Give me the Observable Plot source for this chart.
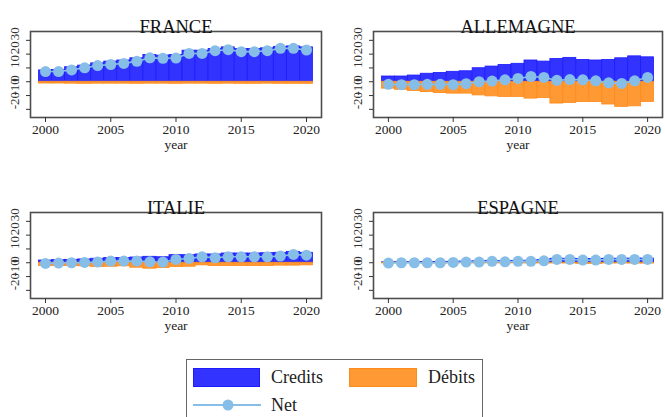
<!DOCTYPE html>
<html><head><meta charset="utf-8">
<script src="https://cdn.jsdelivr.net/npm/d3@7"></script>
<script src="https://cdn.jsdelivr.net/npm/@observablehq/plot@0.6"></script>
<style>
body{margin:0;background:#fff;}
#root{position:relative;width:665px;height:417px;overflow:hidden;font-family:"Liberation Serif",serif;background:#fff;}
.panel{position:absolute;}
.panel svg{max-width:none !important;}
#legend{position:absolute;left:186px;top:359px;width:297px;height:70px;border:1.5px solid #666;box-sizing:border-box;}
.sw{position:absolute;box-sizing:border-box;}
.lab{position:absolute;font-size:18px;color:#222;line-height:20px;}
</style></head><body><div id="root"></div>
<script>
const years = [2000,2001,2002,2003,2004,2005,2006,2007,2008,2009,2010,2011,2012,2013,2014,2015,2016,2017,2018,2019,2020];
const countries = ["FRANCE","ALLEMAGNE","ITALIE","ESPAGNE"];
const xTicks = [2000,2005,2010,2015,2020];
const yTicks = [-20,-10,0,10,20,30];
const seriesNames = ["Credits","Débits","Net"];

const franceCredits = [8.2,8.6,10.5,11.7,13.3,14.6,15.4,17.0,19.4,18.9,19.4,22.5,22.5,23.7,24.9,23.7,23.7,24.2,25.3,25.6,24.9];
const franceDebits  = [-1.3,-1.3,-1.4,-1.5,-1.4,-1.4,-1.4,-1.5,-1.4,-1.4,-1.5,-1.4,-1.4,-1.5,-1.4,-1.5,-1.5,-1.4,-1.5,-1.5,-1.5];
const franceNet     = [7.4,7.4,8.6,10.1,11.7,12.5,13.3,14.8,17.3,17.0,17.2,20.5,20.5,22.5,23.2,21.8,21.8,22.5,24.2,24.2,23.0];

const allemagneCredits = [3.8,3.8,4.5,5.8,6.4,7.2,7.6,9.8,11.0,12.2,13.0,15.4,14.6,16.5,17.3,15.8,15.4,15.8,17.0,18.4,17.7];
const allemagneDebits  = [-5.0,-5.8,-6.7,-7.5,-8.2,-8.6,-8.6,-9.9,-10.6,-11.0,-11.0,-12.2,-11.8,-15.8,-15.4,-14.7,-14.7,-16.5,-18.2,-17.8,-14.7];
const allemagneNet     = [-1.9,-2.1,-2.1,-1.9,-1.9,-2.1,-1.4,0.0,0.5,1.4,2.4,3.8,3.1,1.0,1.6,1.4,0.7,-0.8,-1.2,0.7,3.1];

const italieCredits = [1.6,1.9,2.1,2.4,2.9,3.4,3.4,3.8,4.3,4.0,5.5,5.5,6.0,6.0,6.7,6.7,6.7,6.9,7.2,7.9,7.2];
const italieDebits  = [-2.4,-2.4,-2.4,-2.6,-3.1,-2.9,-2.6,-3.6,-4.3,-3.8,-3.1,-2.9,-1.9,-2.4,-2.4,-2.4,-2.4,-2.4,-2.1,-2.1,-1.9];
const italieNet     = [-0.5,-0.2,0.0,0.2,0.5,1.2,1.2,1.2,0.7,0.5,2.4,3.1,4.3,3.6,4.3,4.3,4.3,4.3,4.8,6.0,5.5];

const espagneCredits = [0.3,0.4,0.4,0.5,0.5,0.7,0.9,1.0,1.4,1.2,1.4,1.5,1.9,2.9,2.9,2.7,2.7,2.9,2.9,3.0,3.0];
const espagneDebits  = [-0.5,-0.4,-0.4,-0.5,-0.5,-0.5,-0.4,-0.5,-0.4,-0.5,-0.4,-0.5,-0.5,-0.5,-0.5,-0.8,-0.8,-0.5,-0.5,-0.6,-0.6];
const espagneNet     = [-0.2,0.0,0.0,0.0,0.0,0.2,0.5,0.5,1.0,0.7,1.0,1.0,1.4,2.4,2.4,1.9,1.9,2.4,2.4,2.4,2.4];

const colCredits = "#3333ff", colCreditsEdge = "#1c1cff";
const colDebits = "#ff9933", colDebitsEdge = "#ff8a1c";
const colNet = "#86bee8";

const series = [
  [franceCredits, franceDebits, franceNet],
  [allemagneCredits, allemagneDebits, allemagneNet],
  [italieCredits, italieDebits, italieNet],
  [espagneCredits, espagneDebits, espagneNet]
];
const layout = [
  {left:0, top:0, ml:30, mr:12, w:333},
  {left:333, top:0, ml:40, mr:3, w:332},
  {left:0, top:181, ml:30, mr:12, w:333},
  {left:333, top:181, ml:40, mr:3, w:332}
];
const serif = '"Liberation Serif", "Times New Roman", serif';

function panel(name, credits, debits, net, L) {
  const rows = years.map((year, i) => ({year, credits: credits[i], debits: debits[i], net: net[i]}));
  return Plot.plot({
    width: L.w, height: 160,
    marginLeft: L.ml, marginRight: L.mr, marginTop: 31, marginBottom: 43,
    style: {fontFamily: serif, background: "transparent", color: "#333", maxWidth: "none"},
    x: {domain: [1998.85, 2021.15]},
    y: {domain: [-25.9, 36.4]},
    marks: [
      Plot.rect(rows, {x1: d => d.year - 0.5, x2: d => d.year + 0.5, y1: 0, y2: "credits", fill: colCredits, stroke: colCreditsEdge, strokeWidth: 0.8}),
      Plot.rect(rows, {x1: d => d.year - 0.5, x2: d => d.year + 0.5, y1: 0, y2: "debits", fill: colDebits, stroke: colDebitsEdge, strokeWidth: 0.8}),
      Plot.line(rows, {x: "year", y: "net", stroke: colNet, strokeWidth: 1.6}),
      Plot.dot(rows, {x: "year", y: "net", r: 5.5, fill: colNet}),
      Plot.frame({stroke: "#4d4d4d", strokeWidth: 1.6}),
      Plot.axisX({ticks: xTicks, tickSize: 5, tickFormat: () => null, label: null}),
      Plot.axisY({ticks: yTicks, tickSize: 4, tickFormat: () => null, label: null}),
      Plot.text(xTicks, {x: d => d, text: d => String(d), frameAnchor: "bottom", dy: 16, fontSize: 13.5, fill: "#222", fontFamily: serif}),
      Plot.text(yTicks, {y: d => d, text: d => String(d), frameAnchor: "left", dx: -15.5, rotate: -90, fontSize: 13, fill: "#333", fontFamily: serif}),
      Plot.text(["year"], {text: d => d, frameAnchor: "bottom", dy: 31.5, fontSize: 13.5, fill: "#222", fontFamily: serif}),
      Plot.text([name], {text: d => d, frameAnchor: "top", dy: -12, fontSize: 18.5, fill: "#111", fontFamily: serif})
    ]
  });
}

const root = document.getElementById("root");
countries.forEach((name, k) => {
  const L = layout[k];
  const div = document.createElement("div");
  div.className = "panel";
  div.style.left = L.left + "px";
  div.style.top = L.top + "px";
  div.style.width = L.w + "px";
  div.appendChild(panel(name, series[k][0], series[k][1], series[k][2], L));
  root.appendChild(div);
});

// legend
const lg = document.createElement("div");
lg.id = "legend";
lg.innerHTML = `
  <div class="sw" style="left:6px;top:8px;width:67px;height:19px;background:${colCredits};border:1px solid ${colCreditsEdge};"></div>
  <div class="lab" style="left:84px;top:7px;">${seriesNames[0]}</div>
  <div class="sw" style="left:162px;top:8px;width:68px;height:19px;background:${colDebits};border:1px solid ${colDebitsEdge};"></div>
  <div class="lab" style="left:241px;top:7px;">${seriesNames[1]}</div>
  <svg style="position:absolute;left:6px;top:35px;" width="68" height="20">
    <line x1="0" y1="10" x2="68" y2="10" stroke="${colNet}" stroke-width="2"/>
    <circle cx="35" cy="10" r="5.5" fill="${colNet}"/>
  </svg>
  <div class="lab" style="left:84px;top:35px;">${seriesNames[2]}</div>
`;
root.appendChild(lg);
</script>
</body></html>
